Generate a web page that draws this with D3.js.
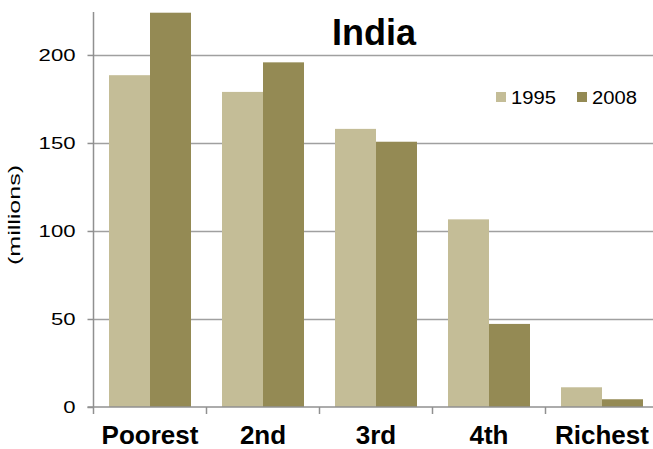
<!DOCTYPE html>
<html><head><meta charset="utf-8">
<script src="https://cdn.jsdelivr.net/npm/d3@7"></script>
<style>body{margin:0;background:#fff}svg{display:block}text{font-family:"Liberation Sans",Arial,sans-serif}</style>
</head><body><svg id="c" width="653" height="449"></svg>
<script>
const categories = ["Poorest","2nd","3rd","4th","Richest"];
const seriesNames = ["1995","2008"];
const values1995 = [188.5,179,158,106.6,11.2];
const values2008 = [224,195.8,150.7,47.2,4.4];
const yTicks = [0,50,100,150,200];
const colors = ["#C4BD97","#948A54"];

(function(){
const svg = d3.select("#c");
const W = 653;
const mLeft = 93.5, mTop = 12, mBottom = 407;
const step = 113;
const x = d3.scaleBand().domain(categories).range([mLeft, mLeft + step*categories.length]).padding(0);
const xi = d3.scaleBand().domain(seriesNames).range([15.5, step-15.5]).padding(0);
const y = d3.scaleLinear().domain([0, 224.4]).range([mBottom, mTop]);

// gridlines
svg.append("g").selectAll("line").data(yTicks.filter(d=>d>0)).join("line")
  .attr("x1", mLeft).attr("x2", W).attr("y1", d=>Math.round(y(d))+0.5).attr("y2", d=>Math.round(y(d))+0.5)
  .attr("stroke","#a0a0a0").attr("stroke-width",1.5);

// bars
const data = categories.map((c,i)=>({c, v:[values1995[i], values2008[i]]}));
const g = svg.append("g");
data.forEach(d=>{
  seriesNames.forEach((s,j)=>{
    g.append("rect").attr("x", x(d.c)+xi(s)).attr("width", xi.bandwidth())
      .attr("y", y(d.v[j])).attr("height", y(0)-y(d.v[j])).attr("fill", colors[j]);
  });
});

// y axis
const yAxis = d3.axisLeft(y).tickValues(yTicks).tickSize(6).tickPadding(12);
const ya = svg.append("g").attr("transform",`translate(${mLeft},0)`).call(yAxis);
ya.select(".domain").attr("stroke","#909090").attr("stroke-width",1.5).attr("d",`M0,${mTop}V${mBottom}`);
ya.selectAll(".tick line").attr("stroke","#909090").attr("stroke-width",1.5);
ya.selectAll(".tick text").attr("font-size",17).attr("fill","#000")
  .attr("font-family","Liberation Sans, Arial, sans-serif")
  .attr("textLength", d=>String(d).length*12.3).attr("lengthAdjust","spacingAndGlyphs");

// x axis
const xa = svg.append("g").attr("transform",`translate(0,${mBottom})`);
xa.append("line").attr("x1",mLeft-6).attr("x2",W).attr("y1",0).attr("y2",0).attr("stroke","#909090").attr("stroke-width",1.5);
xa.selectAll("line.t").data(d3.range(categories.length)).join("line").attr("class","t")
  .attr("x1",i=>mLeft+i*step).attr("x2",i=>mLeft+i*step).attr("y1",0).attr("y2",7)
  .attr("stroke","#909090").attr("stroke-width",1.5);
xa.selectAll("text").data(categories).join("text")
  .attr("x", d=>x(d)+step/2).attr("y", 37).attr("text-anchor","middle")
  .attr("font-size",26).attr("font-weight","bold").attr("fill","#000").text(d=>d);

// y title
svg.append("text").attr("transform","translate(20,215) rotate(-90)").attr("text-anchor","middle")
  .attr("font-size",16).attr("fill","#000")
  .attr("textLength",100).attr("lengthAdjust","spacingAndGlyphs").text("(millions)");

// title
svg.append("text").attr("x",374).attr("y",45).attr("text-anchor","middle")
  .attr("font-size",36).attr("font-weight","bold").attr("fill","#000").text("India");

// legend
const lg = svg.append("g");
const lx = [496, 577];
seriesNames.forEach((s,j)=>{
  lg.append("rect").attr("x",lx[j]).attr("y",92).attr("width",10).attr("height",10).attr("fill",colors[j]);
  lg.append("text").attr("x",lx[j]+15).attr("y",103.5).attr("font-size",17.5).attr("fill","#000")
    .attr("textLength",45).attr("lengthAdjust","spacingAndGlyphs").text(s);
});
})();
</script></body></html>
